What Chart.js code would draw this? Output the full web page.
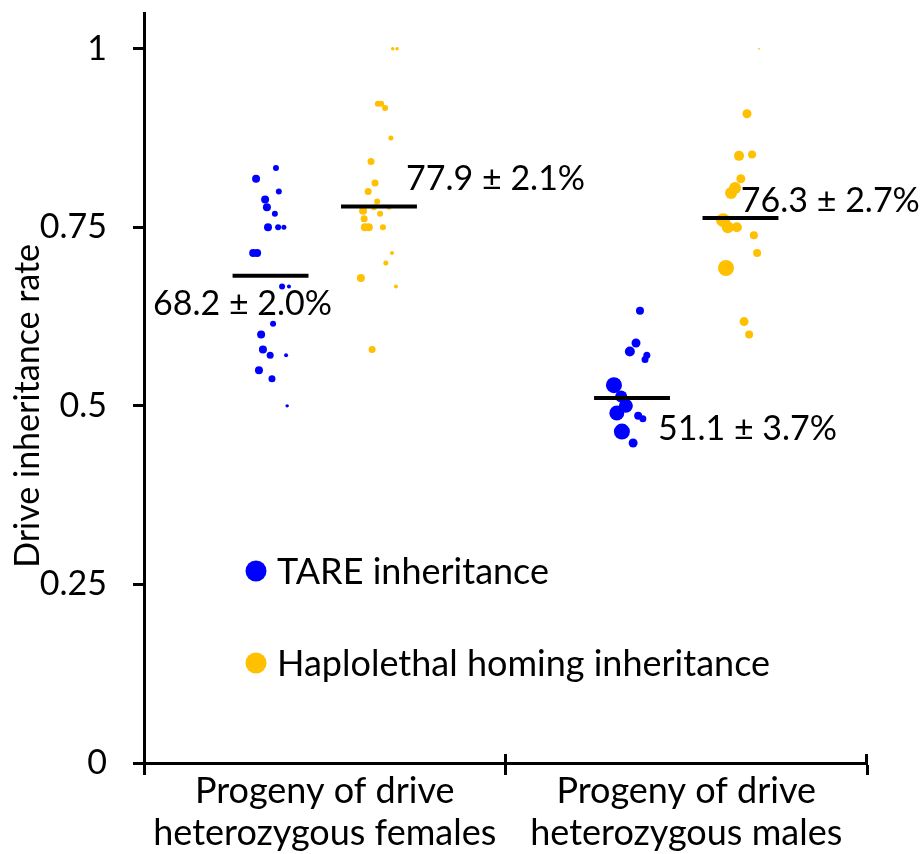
<!DOCTYPE html>
<html>
<head>
<meta charset="utf-8">
<title>Drive inheritance rate</title>
<script src="https://cdn.jsdelivr.net/npm/chart.js@4"></script>
<style>
  html, body { margin: 0; padding: 0; background: #fff; }
  canvas { display: block; }
</style>
</head>
<body>
<canvas id="chart" width="922" height="854"></canvas>
<script>
// categories along the x axis (centred on 0.5 and 1.5)
const categories = [
  ['Progeny of drive', 'heterozygous females'],
  ['Progeny of drive', 'heterozygous males']
];
const categoryCenters = [0.5, 1.5];
const xTickValues = [0, 0.5, 1, 1.5, 2];

const yTicks = [0, 0.25, 0.5, 0.75, 1];
const yTickLabels = ['0', '0.25', '0.5', '0.75', '1'];
const yTitle = 'Drive inheritance rate';

const seriesNames = ['TARE inheritance', 'Haplolethal homing inheritance'];

// TARE, progeny of heterozygous females (x = jittered position, n = progeny counted)
const tareFemaleX = [0.365, 0.310, 0.373, 0.335, 0.340, 0.362, 0.343, 0.371, 0.387, 0.302, 0.313,
  0.382, 0.401, 0.357, 0.324, 0.329, 0.349, 0.393, 0.318, 0.354, 0.396];
const tareFemaleY = [0.833, 0.818, 0.800, 0.789, 0.778, 0.769, 0.750, 0.750, 0.750, 0.714, 0.714,
  0.667, 0.667, 0.615, 0.600, 0.579, 0.571, 0.571, 0.550, 0.538, 0.500];
const tareFemaleN = [36, 64, 36, 64, 64, 36, 64, 36, 25, 64, 64,
  36, 16, 36, 64, 64, 49, 16, 64, 49, 12];

// TARE, progeny of heterozygous males
const tareMaleX = [1.372, 1.361, 1.344, 1.391, 1.386, 1.300, 1.320, 1.333, 1.308, 1.367, 1.380, 1.322, 1.353];
const tareMaleY = [0.633, 0.588, 0.576, 0.571, 0.565, 0.529, 0.513, 0.500, 0.490, 0.486, 0.482, 0.464, 0.448];
const tareMaleN = [64, 81, 100, 49, 49, 256, 144, 196, 225, 64, 49, 256, 81];

// Haplolethal homing, progeny of heterozygous females
const homingFemaleX = [0.688, 0.700, 0.647, 0.656, 0.667, 0.683, 0.628, 0.639, 0.620, 0.645, 0.636, 0.678,
  0.606, 0.653, 0.609, 0.611, 0.622, 0.661, 0.686, 0.669, 0.600, 0.697, 0.631];
const homingFemaleY = [1.000, 1.000, 0.923, 0.923, 0.917, 0.875, 0.842, 0.812, 0.800, 0.786, 0.778, 0.778,
  0.773, 0.769, 0.762, 0.750, 0.750, 0.750, 0.714, 0.700, 0.679, 0.667, 0.579];
const homingFemaleN = [12, 12, 36, 36, 36, 25, 49, 49, 49, 36, 36, 25,
  64, 36, 49, 64, 64, 36, 16, 25, 64, 16, 49];

// Haplolethal homing, progeny of heterozygous males
const homingMaleX = [1.701, 1.668, 1.646, 1.682, 1.651, 1.635, 1.624, 1.602, 1.615, 1.640, 1.687, 1.696, 1.610, 1.660, 1.674];
const homingMaleY = [1.000, 0.909, 0.850, 0.852, 0.818, 0.805, 0.798, 0.760, 0.750, 0.750, 0.739, 0.714, 0.693, 0.618, 0.600];
const homingMaleN = [3, 81, 100, 64, 81, 144, 144, 196, 144, 100, 64, 64, 256, 81, 64];

// group means and standard errors: TARE females, homing females, TARE males, homing males
const groupCenters = [0.35, 0.65, 1.35, 1.65];
const groupMeans = [0.682, 0.779, 0.511, 0.763];
const groupErrors = [0.020, 0.021, 0.037, 0.027];

const tareColor = '#0000FF';
const homingColor = '#FFC000';

// where each mean label starts (data units), left aligned, vertically centred
const labelAnchors = [
  { x: 0.025, y: 0.643 },
  { x: 0.725, y: 0.817 },
  { x: 1.422, y: 0.468 },
  { x: 1.651, y: 0.787 }
];

Chart.defaults.font.family = 'Lato';
Chart.defaults.color = '#000';

function toPoints(xs, ys) {
  return xs.map((x, i) => ({ x, y: ys[i] }));
}

function scatterSet(xs, ys, counts, color) {
  return {
    type: 'scatter',
    data: toPoints(xs, ys),
    backgroundColor: color,
    borderWidth: 0,
    pointRadius: ctx => Math.sqrt(counts[ctx.dataIndex]) / 2,
    order: 1
  };
}

const meanHalfWidth = 0.105;
const meanSets = groupMeans.map((m, i) => ({
  type: 'line',
  data: [
    { x: groupCenters[i] - meanHalfWidth, y: m },
    { x: groupCenters[i] + meanHalfWidth, y: m }
  ],
  borderColor: '#000',
  borderWidth: 4,
  pointRadius: 0,
  showLine: true,
  order: 0
}));

const annotationPlugin = {
  id: 'annotations',
  afterDatasetsDraw(chart) {
    const { ctx, chartArea } = chart;
    const x = chart.scales.x;
    const y = chart.scales.y;
    ctx.save();
    ctx.fillStyle = '#000';
    ctx.font = '34px Lato';
    ctx.textAlign = 'left';
    ctx.textBaseline = 'middle';

    groupMeans.forEach((m, i) => {
      const text = (m * 100).toFixed(1) + ' ± ' + (groupErrors[i] * 100).toFixed(1) + '%';
      ctx.fillText(text, x.getPixelForValue(labelAnchors[i].x), y.getPixelForValue(labelAnchors[i].y));
    });

    // legend inside the plot
    ctx.font = '36px Lato';
    const legendColors = [tareColor, homingColor];
    const legendX = chartArea.left + 112;
    const legendY = [571, 663];
    seriesNames.forEach((name, i) => {
      ctx.fillStyle = legendColors[i];
      ctx.beginPath();
      ctx.arc(legendX, legendY[i], 10.5, 0, Math.PI * 2);
      ctx.fill();
      ctx.fillStyle = '#000';
      ctx.fillText(name, legendX + 21, legendY[i] + 1);
    });

    // y axis title, centred on 0.5 as in the original
    ctx.save();
    ctx.translate(28, y.getPixelForValue(0.5));
    ctx.rotate(-Math.PI / 2);
    ctx.textAlign = 'center';
    ctx.font = '34px Lato';
    ctx.fillText(yTitle, 0, 0);
    ctx.restore();

    // x tick marks cross the axis line
    ctx.strokeStyle = '#000';
    ctx.lineWidth = 3;
    [1, 2].forEach(v => {
      const px = Math.round(x.getPixelForValue(v)) - 0.5;
      ctx.beginPath();
      ctx.moveTo(px, chartArea.bottom - 9);
      ctx.lineTo(px, chartArea.bottom);
      ctx.stroke();
    });
    ctx.restore();
  }
};

new Chart(document.getElementById('chart'), {
  type: 'scatter',
  data: {
    datasets: [
      ...meanSets,
      scatterSet(tareFemaleX, tareFemaleY, tareFemaleN, tareColor),
      scatterSet(tareMaleX, tareMaleY, tareMaleN, tareColor),
      scatterSet(homingFemaleX, homingFemaleY, homingFemaleN, homingColor),
      scatterSet(homingMaleX, homingMaleY, homingMaleN, homingColor)
    ]
  },
  options: {
    responsive: false,
    animation: false,
    events: [],
    layout: { padding: { top: 13, right: 55, bottom: 0, left: 0 } },
    plugins: {
      legend: { display: false },
      tooltip: { enabled: false }
    },
    scales: {
      x: {
        type: 'linear',
        min: 0,
        max: 2,
        afterBuildTicks: scale => {
          scale.ticks = xTickValues.map(v => ({ value: v }));
        },
        ticks: {
          autoSkip: false,
          maxRotation: 0,
          padding: -4,
          font: { size: 36, lineHeight: 1.15 },
          callback: value => {
            const idx = categoryCenters.indexOf(value);
            return idx >= 0 ? categories[idx] : '';
          }
        },
        grid: {
          drawOnChartArea: false,
          tickLength: 12,
          tickWidth: 3,
          tickColor: ctx => (ctx.tick && Number.isInteger(ctx.tick.value)) ? '#000' : 'rgba(0,0,0,0)'
        },
        border: { color: '#000', width: 3 },
        afterFit: scale => {
          scale.height = 91;
          scale.paddingLeft = 0;
          scale.paddingRight = 0;
        }
      },
      y: {
        type: 'linear',
        min: 0,
        max: 1.05,
        afterBuildTicks: scale => {
          scale.ticks = yTicks.map(v => ({ value: v }));
        },
        ticks: {
          padding: 26,
          font: { size: 34 },
          callback: value => yTickLabels[yTicks.indexOf(value)]
        },
        grid: {
          drawOnChartArea: false,
          tickLength: 11,
          tickWidth: 3,
          color: '#000'
        },
        border: { color: '#000', width: 3 },
        afterFit: scale => {
          scale.width = 144;
          scale.paddingTop = 0;
          scale.paddingBottom = 0;
        }
      }
    }
  },
  plugins: [annotationPlugin]
});
</script>
</body>
</html>
